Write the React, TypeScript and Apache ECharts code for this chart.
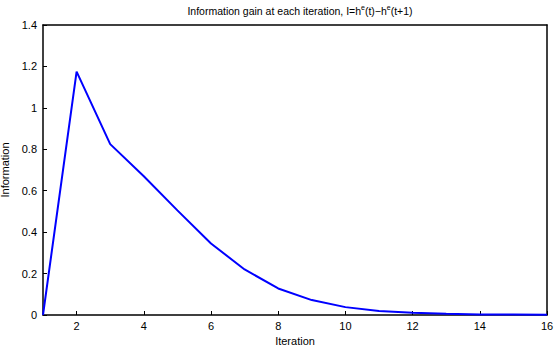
import React, { useEffect, useRef } from "react";
import * as echarts from "echarts";

const iterations = [1, 2, 3, 4, 5, 6, 7, 8, 9, 10, 11, 12, 13, 14, 15, 16];
const information = [0, 1.175, 0.825, 0.67, 0.505, 0.345, 0.22, 0.128, 0.072, 0.038, 0.019, 0.011, 0.006, 0.003, 0.002, 0.001];
const xTicks = [2, 4, 6, 8, 10, 12, 14, 16];

const FONT = "Liberation Sans, Arial, Helvetica, sans-serif";

export default function App() {
  const ref = useRef<HTMLDivElement>(null);
  useEffect(() => {
    if (!ref.current) return;
    const chart = echarts.init(ref.current, null, { renderer: "svg" });
    const data = iterations.map((x, i) => [x, information[i]]);
    chart.setOption({
      animation: false,
      backgroundColor: "#fff",
      textStyle: { fontFamily: FONT },
      title: {
        text: "Information gain at each iteration, I=h{sup|e}(t)\u2212h{sup|e}(t+1)",
        left: 295,
        textAlign: "center",
        top: -1,
        textStyle: {
          fontFamily: FONT,
          fontSize: 10.5,
          fontWeight: "normal",
          color: "#000",
          lineHeight: 14,
          rich: {
            sup: { fontSize: 7, verticalAlign: "top", lineHeight: 14, padding: [0, 0, 5, 0], color: "#000", fontFamily: FONT },
          },
        },
      },
      grid: { left: 43, right: 9, top: 25, bottom: 33, show: false, containLabel: false, outerBoundsMode: "none" },
      xAxis: [
        {
          type: "value",
          min: 1,
          max: 16,
          name: "Iteration",
          nameLocation: "middle",
          nameGap: 16,
          nameTextStyle: { fontFamily: FONT, fontSize: 11, color: "#000" },
          axisLine: { show: true, lineStyle: { color: "#000", width: 1.5 } },
          axisTick: { show: true, inside: true, length: 4, customValues: xTicks, lineStyle: { color: "#000" } },
          axisLabel: { customValues: xTicks, fontFamily: FONT, fontSize: 11, color: "#000", margin: 5 },
          splitLine: { show: false },
        },
        {
          type: "value",
          min: 1,
          max: 16,
          position: "top",
          axisLine: { show: true, onZero: false, lineStyle: { color: "#000", width: 1.5 } },
          axisTick: { show: false },
          axisLabel: { show: false },
          splitLine: { show: false },
        },
      ],
      yAxis: [
        {
          type: "value",
          min: 0,
          max: 1.4,
          interval: 0.2,
          name: "Information",
          nameLocation: "middle",
          nameGap: 28,
          nameTextStyle: { fontFamily: FONT, fontSize: 11, color: "#000" },
          axisLine: { show: true, lineStyle: { color: "#000", width: 1.5 } },
          axisTick: { show: true, inside: true, length: 4, lineStyle: { color: "#000" } },
          axisLabel: {
            fontFamily: FONT,
            fontSize: 11,
            color: "#000",
            margin: 6,
            formatter: (v: number) => String(Math.round(v * 10) / 10),
          },
          splitLine: { show: false },
        },
        {
          type: "value",
          min: 0,
          max: 1.4,
          interval: 0.2,
          position: "right",
          axisLine: { show: true, onZero: false, lineStyle: { color: "#000", width: 1.5 } },
          axisTick: { show: false },
          axisLabel: { show: false },
          splitLine: { show: false },
        },
      ],
      series: [
        {
          type: "line",
          data,
          xAxisIndex: 0,
          yAxisIndex: 0,
          symbol: "none",
          lineStyle: { color: "#0000ff", width: 2 },
        },
      ],
    });
    return () => chart.dispose();
  }, []);
  return <div ref={ref} style={{ width: 556, height: 348, position: "fixed", left: 0, top: 0 }} />;
}
